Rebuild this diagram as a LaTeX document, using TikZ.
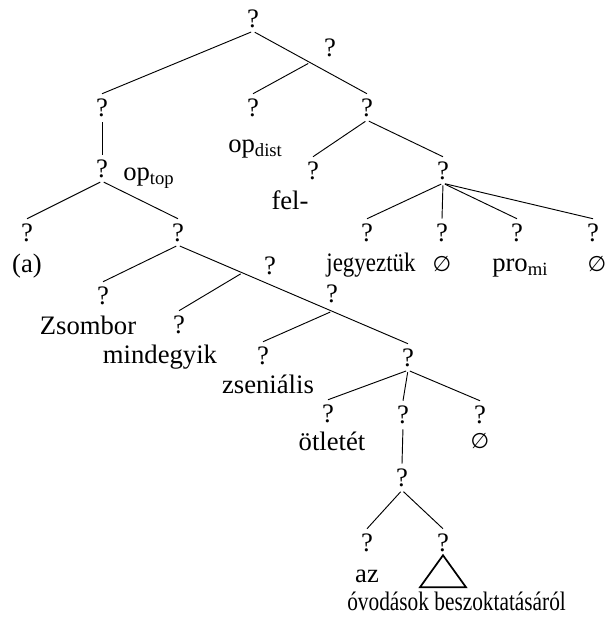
\documentclass[tikz,border=0pt]{standalone}
\usepackage{fontspec}
\setmainfont{Liberation Serif}
\newfontfamily\symfont{DejaVu Sans}
\usepackage{graphicx}
\usepackage{tikz}
\usetikzlibrary{calc}
\newcommand{\treefont}{\fontsize{20}{24}\selectfont}
\newcommand{\leer}{{\symfont\fontsize{16}{20}\selectfont ∅}}

\tikzset{
  cat/.style={inner sep=0pt, text height=16.5pt, text depth=3pt, anchor=base},
  word/.style={inner sep=0pt, anchor=base},
  branch/.style={line width=0.7pt, shorten <=1.5pt},
}

\begin{document}
\begin{tikzpicture}[x=0.75pt, y=-0.75pt, font=\treefont]
  \useasboundingbox (0,0) rectangle (606,618);

  % Kategorien
  \node[cat] (root)  at (253,27)  {?};
  \node[cat] (rmid)  at (330,56)  {?};
  \node[cat] (tp)    at (102,116) {?};
  \node[cat] (opd)   at (253,116) {?};
  \node[cat] (fp)    at (367,116) {?};
  \node[cat] (optop) at (102,177) {?};
  \node[cat] (fel)   at (313,179) {?};
  \node[cat] (vq)    at (443,179) {?};
  \node[cat] (a)     at (27,241)  {?};
  \node[cat] (b)     at (178,241) {?};
  \node[cat] (v1)    at (367,241) {?};
  \node[cat] (v2)    at (442,241) {?};
  \node[cat] (v3)    at (517,241) {?};
  \node[cat] (v4)    at (593,241) {?};
  \node[cat] (bmid)  at (270,274) {?};
  \node[cat] (zs)    at (103,304) {?};
  \node[cat] (cmid)  at (332,302) {?};
  \node[cat] (mi)    at (179,333) {?};
  \node[cat] (zn)    at (263,364) {?};
  \node[cat] (k)     at (408,366) {?};
  \node[cat] (o1)    at (328,422) {?};
  \node[cat] (o2)    at (403,423) {?};
  \node[cat] (o3)    at (480,423) {?};
  \node[cat] (p)     at (402,486) {?};
  \node[cat] (q1)    at (367,551) {?};
  \node[cat] (q2)    at (443,551) {?};

  % Wörter
  \node[word, anchor=base west] (wopd)   at (228,152) {op\textsubscript{dist}};
  \node[word, anchor=base west] (woptop) at (123,180) {op\textsubscript{top}};
  \node[word] (wfel)  at (290,209) {fel-};
  \node[word] (wa)    at (27,272)  {(a)};
  \node[word] (wjeg)  at (371,271) {\scalebox{0.86}[1]{jegyeztük}};
  \node[word] (wl1)   at (442,271) {\leer};
  \node[word, anchor=base west] (wpro) at (492,271) {pro\textsubscript{mi}};
  \node[word] (wl2)   at (597,271) {\leer};
  \node[word] (wzs)   at (88,334)  {Zsombor};
  \node[word] (wmi)   at (160,363) {mindegyik};
  \node[word] (wzn)   at (268,393) {zseniális};
  \node[word] (wot)   at (332,450) {ötletét};
  \node[word] (wl3)   at (480,448) {\leer};
  \node[word] (waz)   at (367,582) {az};
  \node[word, anchor=base west] (wov) at (347,610) {\scalebox{0.8}[1]{óvodások beszoktatásáról}};

  % Äste
  \draw[branch] (root.south) -- (tp.north);
  \draw[branch] (root.south) -- (fp.north) coordinate[pos=0.5] (jr);
  \draw[branch] (jr) -- (opd.north);
  \draw[branch] (tp.south) -- (optop.north);
  \draw[branch] (fp.south) -- (fel.north);
  \draw[branch] (fp.south) -- (vq.north);
  \draw[branch] (optop.south) -- (a.north);
  \draw[branch] (optop.south) -- (b.north);
  \foreach \v in {v1,v2,v3,v4}
    \draw[branch] (vq.south) -- (\v.north);
  \draw[branch] (b.south) -- (zs.north);
  \draw[branch] (b.south) -- (k.north) coordinate[pos=0.28] (jb) coordinate[pos=0.67] (jc);
  \draw[branch] (jb) -- (mi.north);
  \draw[branch] (jc) -- (zn.north);
  \foreach \o in {o1,o2,o3}
    \draw[branch] (k.south) -- (\o.north);
  \draw[branch] (o2.south) -- (p.north);
  \draw[branch] (p.south) -- (q1.north);
  \draw[branch] (p.south) -- (q2.north);

  % Dreieck
  \draw[line width=1.3pt, line join=miter] (q2.south) -- ++(-23,32) -- ++(46,0) -- cycle;
\end{tikzpicture}
\end{document}
